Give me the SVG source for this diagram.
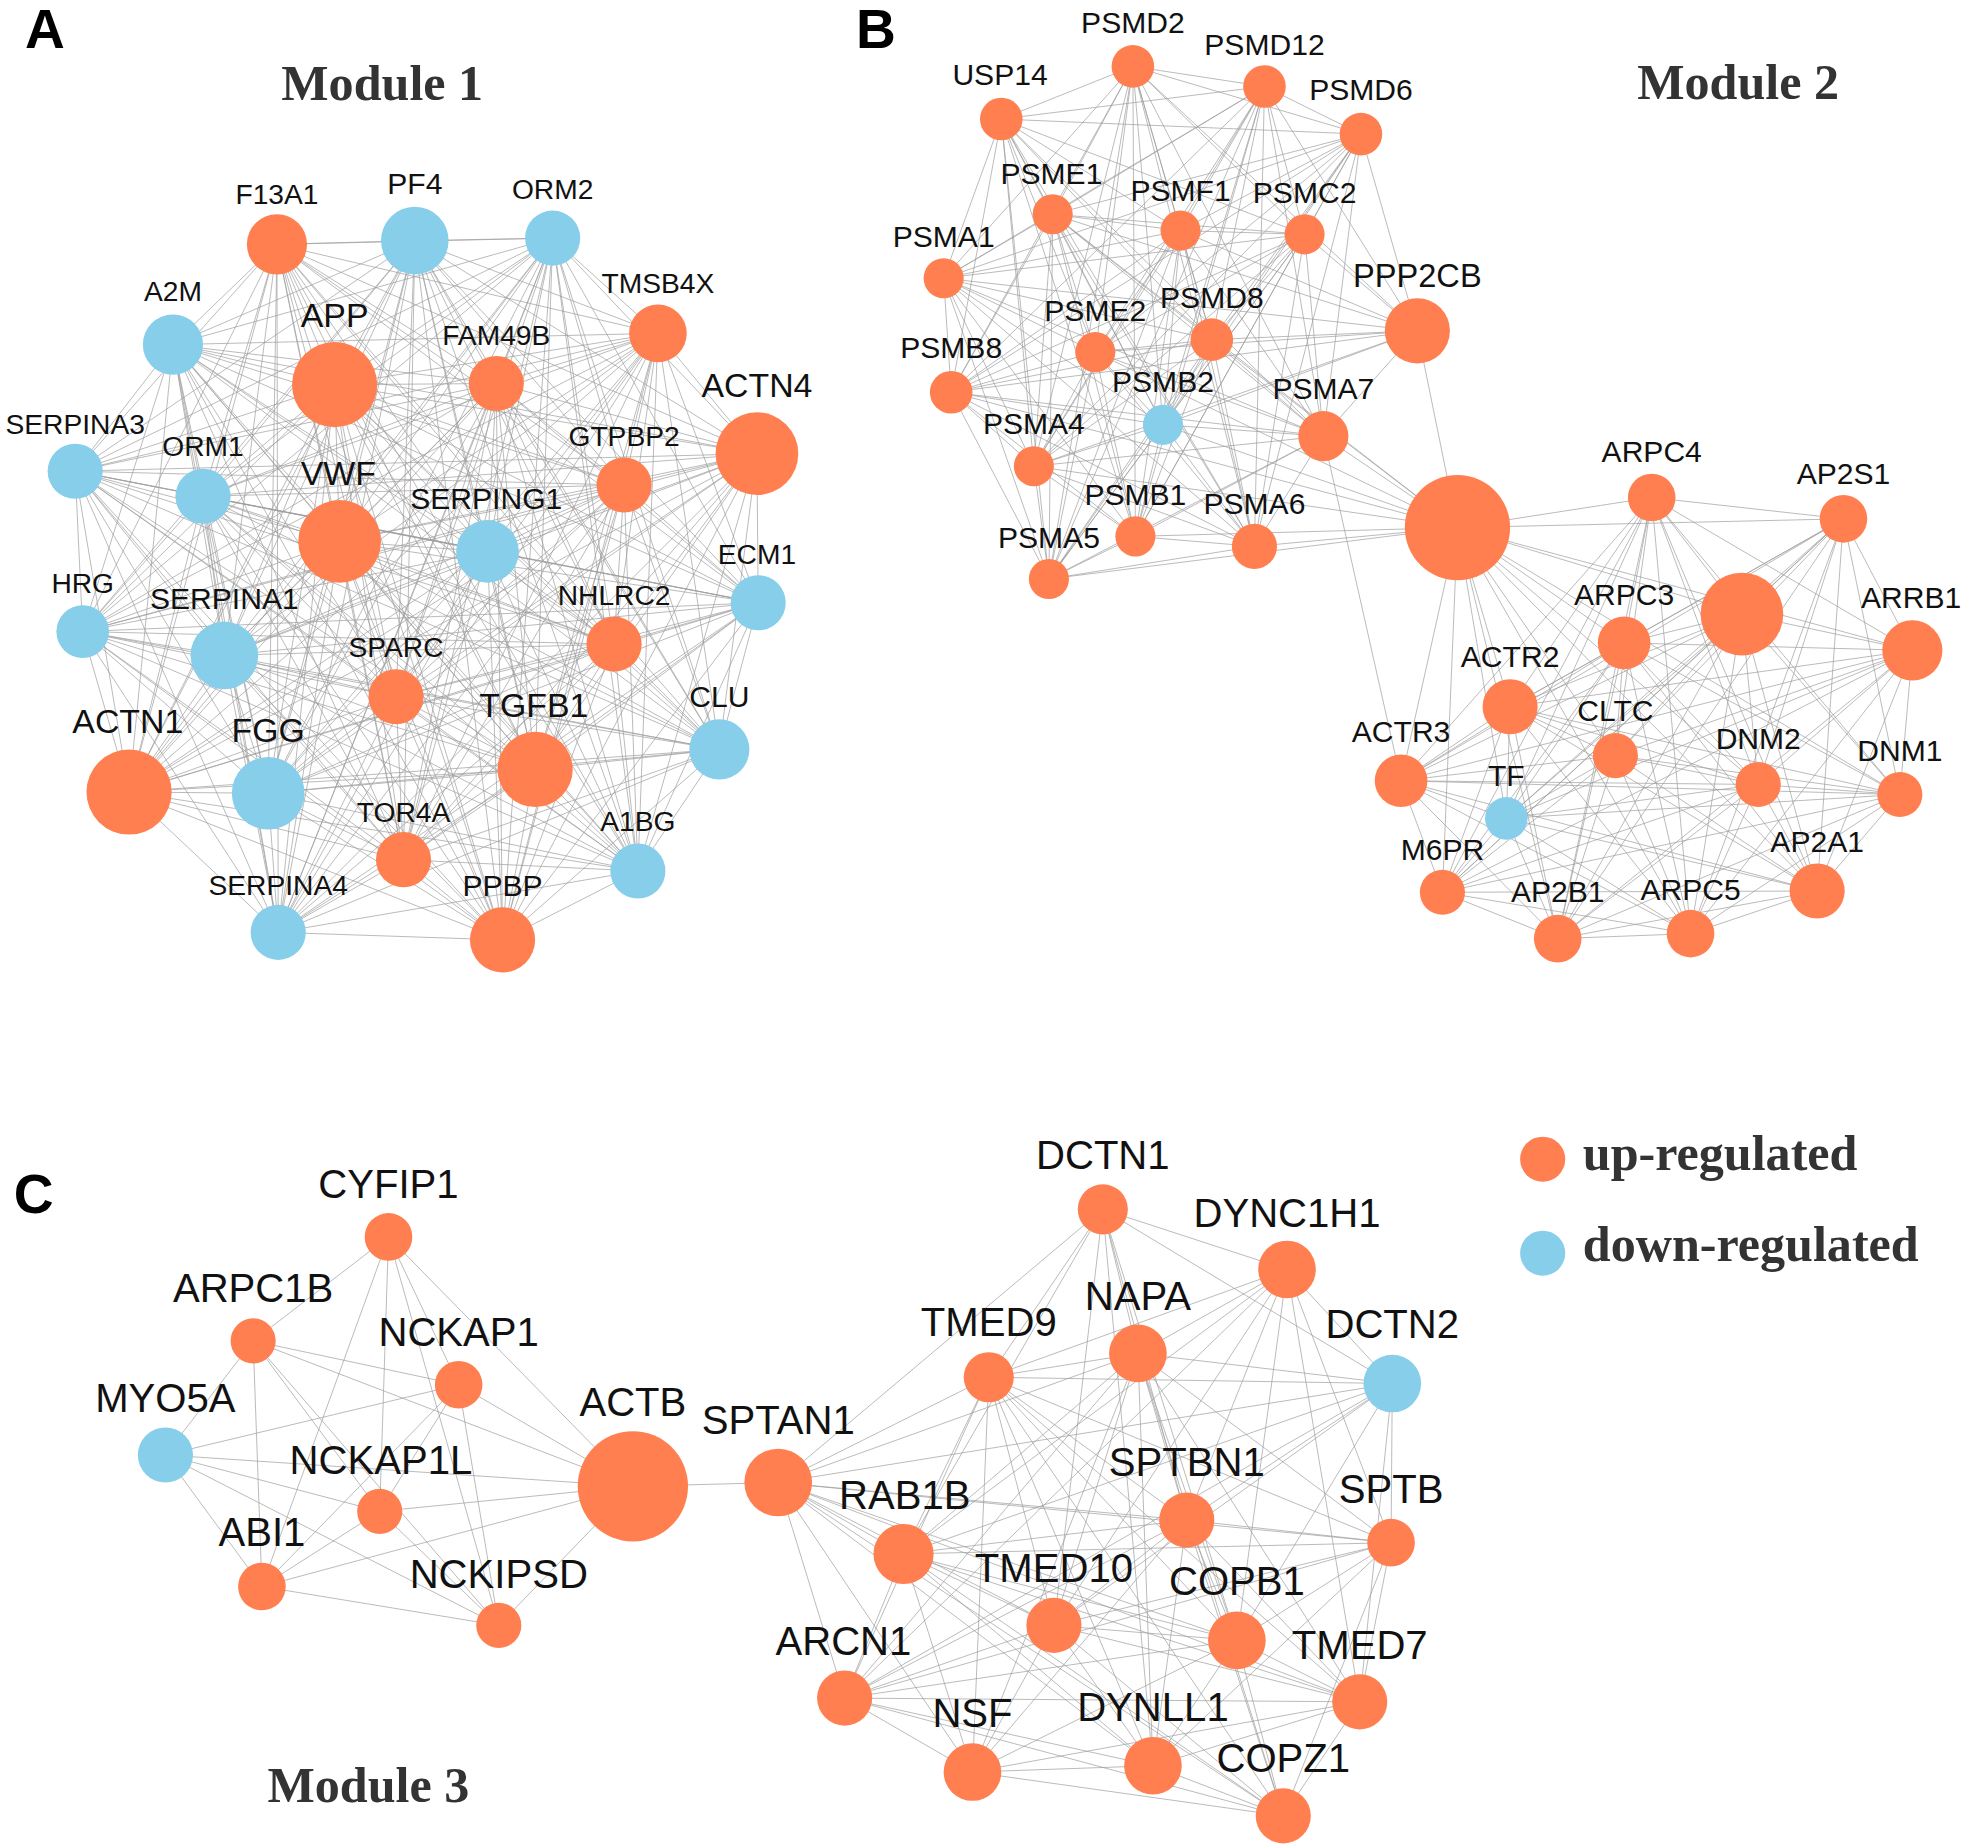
<svg xmlns="http://www.w3.org/2000/svg" width="1965" height="1848" viewBox="0 0 1965 1848">
<style>
.e{stroke:#9c9c9c;stroke-width:0.65;fill:none;stroke-opacity:0.85}
.o{fill:#FF7F50}
.b{fill:#87CEEB}
.t{font-family:"Liberation Sans",Arial,sans-serif;fill:#111;text-anchor:middle}
.s1{font-size:22.5px}
.s2{font-size:24px}
.s3{font-size:27px}
.s4{font-size:32px}
.m{font-family:"Liberation Serif","Times New Roman",serif;font-weight:bold;font-size:40px;fill:#333}
.p{font-family:"Liberation Sans",Arial,sans-serif;font-weight:bold;font-size:44px;fill:#000}
</style>
<rect width="1965" height="1848" fill="#fff"/>
<g transform="scale(1.25319)">
<g id="connectors">
<g id="edges-module1" class="e">
<path d="M331 192L221 195L441 190M138 275L221 195L267 307M396 306L221 195L525 266M604 362L221 195L60 376M162 396L221 195L271 432M389 440L221 195L498 387M605 481L221 195L66 504M179 523L221 195L490 514M316 556L221 195L574 598M103 632L221 195L214 633M427 614L221 195L322 686M509 695L221 195L222 744M401 750L221 195"/>
<path d="M441 190L331 192L138 275M267 307L331 192L396 306M525 266L331 192L604 362M60 376L331 192L162 396M271 432L331 192L389 440M498 387L331 192L605 481M66 504L331 192L179 523M490 514L331 192L316 556M574 598L331 192L103 632M214 633L331 192L427 614M322 686L331 192L509 695M222 744L331 192L401 750"/>
<path d="M138 275L441 190L267 307M396 306L441 190L525 266M604 362L441 190L60 376M162 396L441 190L271 432M389 440L441 190L498 387M605 481L441 190L66 504M179 523L441 190L490 514M316 556L441 190L574 598M103 632L441 190L214 633M427 614L441 190L322 686M509 695L441 190L222 744M401 750L441 190"/>
<path d="M267 307L138 275L396 306M525 266L138 275L604 362M60 376L138 275L162 396M271 432L138 275L389 440M498 387L138 275L605 481M66 504L138 275L179 523M490 514L138 275L316 556M574 598L138 275L103 632M214 633L138 275L427 614M322 686L138 275L509 695M222 744L138 275L401 750"/>
<path d="M396 306L267 307L525 266M604 362L267 307L60 376M162 396L267 307L271 432M389 440L267 307L498 387M605 481L267 307L66 504M179 523L267 307L490 514M316 556L267 307L574 598M103 632L267 307L214 633M427 614L267 307L322 686M509 695L267 307L222 744M401 750L267 307"/>
<path d="M525 266L396 306L604 362M60 376L396 306L162 396M271 432L396 306L389 440M498 387L396 306L605 481M66 504L396 306L179 523M490 514L396 306L316 556M574 598L396 306L103 632M214 633L396 306L427 614M322 686L396 306L509 695M222 744L396 306L401 750"/>
<path d="M604 362L525 266L60 376M162 396L525 266L271 432M389 440L525 266L498 387M605 481L525 266L66 504M179 523L525 266L490 514M316 556L525 266L574 598M103 632L525 266L214 633M427 614L525 266L322 686M509 695L525 266L222 744M401 750L525 266"/>
<path d="M60 376L604 362L162 396M271 432L604 362L389 440M498 387L604 362L605 481M66 504L604 362L179 523M490 514L604 362L316 556M574 598L604 362L103 632M214 633L604 362L427 614M322 686L604 362L509 695M222 744L604 362L401 750"/>
<path d="M162 396L60 376L271 432M389 440L60 376L498 387M605 481L60 376L66 504M179 523L60 376L490 514M316 556L60 376L574 598M103 632L60 376L214 633M427 614L60 376L322 686M509 695L60 376L222 744M401 750L60 376"/>
<path d="M271 432L162 396L389 440M498 387L162 396L605 481M66 504L162 396L179 523M490 514L162 396L316 556M574 598L162 396L103 632M214 633L162 396L427 614M322 686L162 396L509 695M222 744L162 396L401 750"/>
<path d="M389 440L271 432L498 387M605 481L271 432L66 504M179 523L271 432L490 514M316 556L271 432L574 598M103 632L271 432L214 633M427 614L271 432L322 686M509 695L271 432L222 744M401 750L271 432"/>
<path d="M498 387L389 440L605 481M66 504L389 440L179 523M490 514L389 440L316 556M574 598L389 440L103 632M214 633L389 440L427 614M322 686L389 440L509 695M222 744L389 440L401 750"/>
<path d="M605 481L498 387L66 504M179 523L498 387L490 514M316 556L498 387L574 598M103 632L498 387L214 633M427 614L498 387L322 686M509 695L498 387L222 744M401 750L498 387"/>
<path d="M66 504L605 481L179 523M490 514L605 481L316 556M574 598L605 481L103 632M214 633L605 481L427 614M322 686L605 481L509 695M222 744L605 481L401 750"/>
<path d="M179 523L66 504L490 514M316 556L66 504L574 598M103 632L66 504L214 633M427 614L66 504L322 686M509 695L66 504L222 744M401 750L66 504"/>
<path d="M490 514L179 523L316 556M574 598L179 523L103 632M214 633L179 523L427 614M322 686L179 523L509 695M222 744L179 523L401 750"/>
<path d="M316 556L490 514L574 598M103 632L490 514L214 633M427 614L490 514L322 686M509 695L490 514L222 744M401 750L490 514"/>
<path d="M574 598L316 556L103 632M214 633L316 556L427 614M322 686L316 556L509 695M222 744L316 556L401 750"/>
<path d="M103 632L574 598L214 633M427 614L574 598L322 686M509 695L574 598L222 744M401 750L574 598"/>
<path d="M214 633L103 632L427 614M322 686L103 632L509 695M222 744L103 632L401 750"/>
<path d="M427 614L214 633L322 686M509 695L214 633L222 744M401 750L214 633"/>
<path d="M322 686L427 614L509 695M222 744L427 614L401 750"/>
<path d="M509 695L322 686L222 744M401 750L322 686"/>
<path d="M222 744L509 695L401 750"/>
<path d="M222 744L401 750"/>
</g>
<g id="edges-module2" class="e">
<path d="M1009 69L904 53L799 95M1086 107L904 53L840 171M942 184L904 53L1041 187M753 222L904 53L874 281M967 271L904 53L759 313M928 339L904 53L1056 348M825 372L904 53L906 428M1001 436L904 53L837 462"/>
<path d="M799 95L1009 69L1086 107M840 171L1009 69L942 184M1041 187L1009 69L753 222M874 281L1009 69L967 271M759 313L1009 69L928 339M1056 348L1009 69L825 372M906 428L1009 69L1001 436M837 462L1009 69"/>
<path d="M1086 107L799 95L840 171M942 184L799 95L1041 187M753 222L799 95L874 281M967 271L799 95L759 313M928 339L799 95L1056 348M825 372L799 95L906 428M1001 436L799 95L837 462"/>
<path d="M840 171L1086 107L942 184M1041 187L1086 107L753 222M874 281L1086 107L967 271M759 313L1086 107L928 339M1056 348L1086 107L825 372M906 428L1086 107L1001 436M837 462L1086 107"/>
<path d="M942 184L840 171L1041 187M753 222L840 171L874 281M967 271L840 171L759 313M928 339L840 171L1056 348M825 372L840 171L906 428M1001 436L840 171L837 462"/>
<path d="M1041 187L942 184L753 222M874 281L942 184L967 271M759 313L942 184L928 339M1056 348L942 184L825 372M906 428L942 184L1001 436M837 462L942 184"/>
<path d="M753 222L1041 187L874 281M967 271L1041 187L759 313M928 339L1041 187L1056 348M825 372L1041 187L906 428M1001 436L1041 187L837 462"/>
<path d="M874 281L753 222L967 271M759 313L753 222L928 339M1056 348L753 222L825 372M906 428L753 222L1001 436M837 462L753 222"/>
<path d="M967 271L874 281L759 313M928 339L874 281L1056 348M825 372L874 281L906 428M1001 436L874 281L837 462"/>
<path d="M759 313L967 271L928 339M1056 348L967 271L825 372M906 428L967 271L1001 436M837 462L967 271"/>
<path d="M928 339L759 313L1056 348M825 372L759 313L906 428M1001 436L759 313L837 462"/>
<path d="M1056 348L928 339L825 372M906 428L928 339L1001 436M837 462L928 339"/>
<path d="M825 372L1056 348L906 428M1001 436L1056 348L837 462"/>
<path d="M906 428L825 372L1001 436M837 462L825 372"/>
<path d="M1001 436L906 428L837 462"/>
<path d="M1001 436L837 462"/>
<path d="M904 53L1131 264L1009 69M1086 107L1131 264L1041 187M942 184L1131 264L967 271M840 171L1131 264L753 222M759 313L1131 264L874 281M928 339L1131 264L1056 348M1163 421L1131 264L825 372"/>
<path d="M1056 348L1163 421L928 339M874 281L1163 421L840 171M1001 436L1163 421L906 428M837 462L1163 421L967 271M825 372L1163 421L759 313M1318 397L1163 421L1471 414M1390 490L1163 421L1296 513M1205 564L1163 421L1289 603M1118 623L1163 421L1202 653M1403 626L1163 421L1151 712M1243 749L1163 421L1526 519M1516 634L1163 421L1450 711M1349 745L1163 421"/>
<path d="M1118 623L1056 348"/>
<path d="M1471 414L1318 397L1390 490M1296 513L1318 397L1526 519M1205 564L1318 397L1289 603M1118 623L1318 397L1403 626M1516 634L1318 397L1202 653M1151 712L1318 397L1450 711M1243 749L1318 397L1349 745"/>
<path d="M1390 490L1471 414L1296 513M1526 519L1471 414L1205 564M1289 603L1471 414L1118 623M1403 626L1471 414L1516 634M1202 653L1471 414L1151 712M1450 711L1471 414L1243 749M1349 745L1471 414"/>
<path d="M1296 513L1390 490L1526 519M1205 564L1390 490L1289 603M1118 623L1390 490L1403 626M1516 634L1390 490L1202 653M1151 712L1390 490L1450 711M1243 749L1390 490L1349 745"/>
<path d="M1526 519L1296 513L1205 564M1289 603L1296 513L1118 623M1403 626L1296 513L1516 634M1202 653L1296 513L1151 712M1450 711L1296 513L1243 749M1349 745L1296 513"/>
<path d="M1205 564L1526 519L1289 603M1118 623L1526 519L1403 626M1516 634L1526 519L1202 653M1151 712L1526 519L1450 711M1243 749L1526 519L1349 745"/>
<path d="M1289 603L1205 564L1118 623M1403 626L1205 564L1516 634M1202 653L1205 564L1151 712M1450 711L1205 564L1243 749M1349 745L1205 564"/>
<path d="M1118 623L1289 603L1403 626M1516 634L1289 603L1202 653M1151 712L1289 603L1450 711M1243 749L1289 603L1349 745"/>
<path d="M1403 626L1118 623L1516 634M1202 653L1118 623L1151 712M1450 711L1118 623L1243 749M1349 745L1118 623"/>
<path d="M1516 634L1403 626L1202 653M1151 712L1403 626L1450 711M1243 749L1403 626L1349 745"/>
<path d="M1202 653L1516 634L1151 712M1450 711L1516 634L1243 749M1349 745L1516 634"/>
<path d="M1151 712L1202 653L1450 711M1243 749L1202 653L1349 745"/>
<path d="M1450 711L1151 712L1243 749M1349 745L1151 712"/>
<path d="M1243 749L1450 711L1349 745"/>
<path d="M1243 749L1349 745"/>
</g>
<g id="edges-module3" class="e">
<path d="M202 1070L310 987L366 1105M303 1206L310 987L505 1186M398 1297L310 987L209 1266"/>
<path d="M132 1161L202 1070L366 1105M303 1206L202 1070L505 1186M209 1266L202 1070L398 1297"/>
<path d="M366 1105L132 1161L505 1186M209 1266L132 1161L303 1206M398 1297L132 1161"/>
<path d="M505 1186L366 1105L303 1206M209 1266L366 1105L398 1297"/>
<path d="M505 1186L303 1206L209 1266M398 1297L303 1206"/>
<path d="M505 1186L209 1266L398 1297"/>
<path d="M398 1297L505 1186"/>
<path d="M505 1186L621 1183"/>
<path d="M721 1240L621 1183L947 1213M1110 1231L621 1183L674 1355M776 1414L621 1183L841 1297M987 1309L621 1183L920 1409M1085 1358L621 1183L1024 1449M789 1099L621 1183L908 1080M880 965L621 1183L1111 1104"/>
<path d="M789 1099L880 965L908 1080M1027 1013L880 965L1111 1104M947 1213L880 965L721 1240M841 1297L880 965L987 1309M920 1409L880 965"/>
<path d="M1111 1104L1027 1013L908 1080M789 1099L1027 1013L947 1213M1110 1231L1027 1013L987 1309M1085 1358L1027 1013L841 1297M721 1240L1027 1013L674 1355"/>
<path d="M789 1099L908 1080L1111 1104M947 1213L908 1080L721 1240M841 1297L908 1080L987 1309M1085 1358L908 1080L1024 1449M920 1409L908 1080L776 1414M674 1355L908 1080L1110 1231"/>
<path d="M1111 1104L789 1099L721 1240M947 1213L789 1099L841 1297M987 1309L789 1099L776 1414M674 1355L789 1099L920 1409M1024 1449L789 1099L1085 1358M1110 1231L789 1099"/>
<path d="M1110 1231L1111 1104L947 1213M721 1240L1111 1104L841 1297M987 1309L1111 1104L1085 1358M674 1355L1111 1104"/>
<path d="M947 1213L721 1240L1110 1231M674 1355L721 1240L776 1414M841 1297L721 1240L987 1309M920 1409L721 1240L1085 1358M1024 1449L721 1240"/>
<path d="M1110 1231L947 1213L841 1297M987 1309L947 1213L1085 1358M674 1355L947 1213L776 1414M920 1409L947 1213L1024 1449"/>
<path d="M987 1309L1110 1231L1085 1358M841 1297L1110 1231L920 1409M1024 1449L1110 1231L674 1355"/>
<path d="M987 1309L841 1297L674 1355M776 1414L841 1297L920 1409M1085 1358L841 1297L1024 1449"/>
<path d="M1085 1358L987 1309L674 1355M776 1414L987 1309L920 1409M1024 1449L987 1309"/>
<path d="M674 1355L1085 1358L920 1409M1024 1449L1085 1358L776 1414"/>
<path d="M776 1414L674 1355L920 1409M1024 1449L674 1355"/>
<path d="M920 1409L776 1414L1024 1449"/>
<path d="M920 1409L1024 1449"/>
</g>
</g>

<g id="labels-panels">
<text class="p" x="20" y="38">A</text>
<text class="p" x="683" y="38">B</text>
<text class="p" x="11" y="968">C</text>
<text class="m" x="305" y="80" text-anchor="middle">Module 1</text>
<text class="m" x="1387" y="79" text-anchor="middle">Module 2</text>
<text class="m" x="294" y="1438" text-anchor="middle">Module 3</text>
</g>

<g id="module1">
<g id="n-F13A1"><circle class="o" cx="221" cy="195" r="24"/><text class="t s1" x="221" y="163">F13A1</text></g>
<g id="n-PF4"><circle class="b" cx="331" cy="192" r="27"/><text class="t s2" x="331" y="155">PF4</text></g>
<g id="n-ORM2"><circle class="b" cx="441" cy="190" r="22"/><text class="t s1" x="441" y="159">ORM2</text></g>
<g id="n-A2M"><circle class="b" cx="138" cy="275" r="24"/><text class="t s1" x="138" y="240">A2M</text></g>
<g id="n-APP"><circle class="o" cx="267" cy="307" r="34"/><text class="t s3" x="267" y="261">APP</text></g>
<g id="n-FAM49B"><circle class="o" cx="396" cy="306" r="22"/><text class="t s1" x="396" y="275">FAM49B</text></g>
<g id="n-TMSB4X"><circle class="o" cx="525" cy="266" r="23"/><text class="t s1" x="525" y="234">TMSB4X</text></g>
<g id="n-ACTN4"><circle class="o" cx="604" cy="362" r="33"/><text class="t s3" x="604" y="317">ACTN4</text></g>
<g id="n-SERPINA3"><circle class="b" cx="60" cy="376" r="22"/><text class="t s1" x="60" y="346">SERPINA3</text></g>
<g id="n-ORM1"><circle class="b" cx="162" cy="396" r="22"/><text class="t s1" x="162" y="364">ORM1</text></g>
<g id="n-VWF"><circle class="o" cx="271" cy="432" r="33"/><text class="t s3" x="270" y="387">VWF</text></g>
<g id="n-SERPING1"><circle class="b" cx="389" cy="440" r="25"/><text class="t s2" x="388" y="406">SERPING1</text></g>
<g id="n-GTPBP2"><circle class="o" cx="498" cy="387" r="22"/><text class="t s1" x="498" y="356">GTPBP2</text></g>
<g id="n-ECM1"><circle class="b" cx="605" cy="481" r="22"/><text class="t s1" x="604" y="450">ECM1</text></g>
<g id="n-HRG"><circle class="b" cx="66" cy="504" r="21"/><text class="t s1" x="66" y="473">HRG</text></g>
<g id="n-SERPINA1"><circle class="b" cx="179" cy="523" r="27"/><text class="t s2" x="179" y="486">SERPINA1</text></g>
<g id="n-NHLRC2"><circle class="o" cx="490" cy="514" r="22"/><text class="t s1" x="490" y="483">NHLRC2</text></g>
<g id="n-SPARC"><circle class="o" cx="316" cy="556" r="22"/><text class="t s1" x="316" y="524">SPARC</text></g>
<g id="n-CLU"><circle class="b" cx="574" cy="598" r="24"/><text class="t s2" x="574" y="564">CLU</text></g>
<g id="n-ACTN1"><circle class="o" cx="103" cy="632" r="34"/><text class="t s3" x="102" y="585">ACTN1</text></g>
<g id="n-FGG"><circle class="b" cx="214" cy="633" r="29"/><text class="t s3" x="214" y="592">FGG</text></g>
<g id="n-TGFB1"><circle class="o" cx="427" cy="614" r="30"/><text class="t s3" x="426" y="572">TGFB1</text></g>
<g id="n-TOR4A"><circle class="o" cx="322" cy="686" r="22"/><text class="t s1" x="322" y="656">TOR4A</text></g>
<g id="n-A1BG"><circle class="b" cx="509" cy="695" r="22"/><text class="t s1" x="509" y="663">A1BG</text></g>
<g id="n-SERPINA4"><circle class="b" cx="222" cy="744" r="22"/><text class="t s1" x="222" y="714">SERPINA4</text></g>
<g id="n-PPBP"><circle class="o" cx="401" cy="750" r="26"/><text class="t s2" x="401" y="715">PPBP</text></g>
</g>

<g id="module2">
<g id="n-PSMD2"><circle class="o" cx="904" cy="53" r="17"/><text class="t s2" x="904" y="26">PSMD2</text></g>
<g id="n-PSMD12"><circle class="o" cx="1009" cy="69" r="17"/><text class="t s2" x="1009" y="44">PSMD12</text></g>
<g id="n-USP14"><circle class="o" cx="799" cy="95" r="17"/><text class="t s2" x="798" y="68">USP14</text></g>
<g id="n-PSMD6"><circle class="o" cx="1086" cy="107" r="17"/><text class="t s2" x="1086" y="80">PSMD6</text></g>
<g id="n-PSME1"><circle class="o" cx="840" cy="171" r="16"/><text class="t s2" x="839" y="147">PSME1</text></g>
<g id="n-PSMF1"><circle class="o" cx="942" cy="184" r="16"/><text class="t s2" x="942" y="160">PSMF1</text></g>
<g id="n-PSMC2"><circle class="o" cx="1041" cy="187" r="16"/><text class="t s2" x="1041" y="162">PSMC2</text></g>
<g id="n-PSMA1"><circle class="o" cx="753" cy="222" r="16"/><text class="t s2" x="753" y="197">PSMA1</text></g>
<g id="n-PPP2CB"><circle class="o" cx="1131" cy="264" r="26"/><text class="t" style="font-size:26px" x="1131" y="229">PPP2CB</text></g>
<g id="n-PSME2"><circle class="o" cx="874" cy="281" r="16"/><text class="t s2" x="874" y="256">PSME2</text></g>
<g id="n-PSMD8"><circle class="o" cx="967" cy="271" r="17"/><text class="t s2" x="967" y="246">PSMD8</text></g>
<g id="n-PSMB8"><circle class="o" cx="759" cy="313" r="17"/><text class="t s2" x="759" y="286">PSMB8</text></g>
<g id="n-PSMB2"><circle class="b" cx="928" cy="339" r="16"/><text class="t s2" x="928" y="313">PSMB2</text></g>
<g id="n-PSMA7"><circle class="o" cx="1056" cy="348" r="20"/><text class="t s2" x="1056" y="318">PSMA7</text></g>
<g id="n-PSMA4"><circle class="o" cx="825" cy="372" r="16"/><text class="t s2" x="825" y="346">PSMA4</text></g>
<g id="n-PSMB1"><circle class="o" cx="906" cy="428" r="16"/><text class="t s2" x="906" y="403">PSMB1</text></g>
<g id="n-PSMA6"><circle class="o" cx="1001" cy="436" r="18"/><text class="t s2" x="1001" y="410">PSMA6</text></g>
<g id="n-PSMA5"><circle class="o" cx="837" cy="462" r="16"/><text class="t s2" x="837" y="437">PSMA5</text></g>
<g id="n-hub1"><circle class="o" cx="1163" cy="421" r="42"/></g>
<g id="n-ARPC4"><circle class="o" cx="1318" cy="397" r="19"/><text class="t s2" x="1318" y="369">ARPC4</text></g>
<g id="n-AP2S1"><circle class="o" cx="1471" cy="414" r="19"/><text class="t s2" x="1471" y="386">AP2S1</text></g>
<g id="n-hub2"><circle class="o" cx="1390" cy="490" r="33"/></g>
<g id="n-ARPC3"><circle class="o" cx="1296" cy="513" r="21"/><text class="t s2" x="1296" y="483">ARPC3</text></g>
<g id="n-ARRB1"><circle class="o" cx="1526" cy="519" r="24"/><text class="t s2" x="1525" y="485">ARRB1</text></g>
<g id="n-ACTR2"><circle class="o" cx="1205" cy="564" r="22"/><text class="t s2" x="1205" y="532">ACTR2</text></g>
<g id="n-CLTC"><circle class="o" cx="1289" cy="603" r="18"/><text class="t s2" x="1289" y="575">CLTC</text></g>
<g id="n-ACTR3"><circle class="o" cx="1118" cy="623" r="21"/><text class="t s2" x="1118" y="592">ACTR3</text></g>
<g id="n-DNM2"><circle class="o" cx="1403" cy="626" r="18"/><text class="t s2" x="1403" y="598">DNM2</text></g>
<g id="n-DNM1"><circle class="o" cx="1516" cy="634" r="18"/><text class="t s2" x="1516" y="607">DNM1</text></g>
<g id="n-TF"><circle class="b" cx="1202" cy="653" r="17"/><text class="t s2" x="1202" y="627">TF</text></g>
<g id="n-M6PR"><circle class="o" cx="1151" cy="712" r="18"/><text class="t s2" x="1151" y="686">M6PR</text></g>
<g id="n-AP2A1"><circle class="o" cx="1450" cy="711" r="22"/><text class="t s2" x="1450" y="680">AP2A1</text></g>
<g id="n-AP2B1"><circle class="o" cx="1243" cy="749" r="19"/><text class="t s2" x="1243" y="720">AP2B1</text></g>
<g id="n-ARPC5"><circle class="o" cx="1349" cy="745" r="19"/><text class="t s2" x="1349" y="718">ARPC5</text></g>
</g>

<g id="module3">
<g id="n-CYFIP1"><circle class="o" cx="310" cy="987" r="19"/><text class="t s4" x="310" y="956">CYFIP1</text></g>
<g id="n-ARPC1B"><circle class="o" cx="202" cy="1070" r="18"/><text class="t s4" x="202" y="1039">ARPC1B</text></g>
<g id="n-NCKAP1"><circle class="o" cx="366" cy="1105" r="19"/><text class="t s4" x="366" y="1074">NCKAP1</text></g>
<g id="n-MYO5A"><circle class="b" cx="132" cy="1161" r="22"/><text class="t s4" x="132" y="1127">MYO5A</text></g>
<g id="n-NCKAP1L"><circle class="o" cx="303" cy="1206" r="18"/><text class="t s4" x="304" y="1176">NCKAP1L</text></g>
<g id="n-ACTB"><circle class="o" cx="505" cy="1186" r="44"/><text class="t s4" x="505" y="1130">ACTB</text></g>
<g id="n-ABI1"><circle class="o" cx="209" cy="1266" r="19"/><text class="t s4" x="209" y="1234">ABI1</text></g>
<g id="n-NCKIPSD"><circle class="o" cx="398" cy="1297" r="18"/><text class="t s4" x="398" y="1267">NCKIPSD</text></g>
<g id="n-SPTAN1"><circle class="o" cx="621" cy="1183" r="27"/><text class="t s4" x="621" y="1144">SPTAN1</text></g>
<g id="n-DCTN1"><circle class="o" cx="880" cy="965" r="20"/><text class="t s4" x="880" y="933">DCTN1</text></g>
<g id="n-DYNC1H1"><circle class="o" cx="1027" cy="1013" r="23"/><text class="t s4" x="1027" y="979">DYNC1H1</text></g>
<g id="n-NAPA"><circle class="o" cx="908" cy="1080" r="23"/><text class="t s4" x="908" y="1045">NAPA</text></g>
<g id="n-TMED9"><circle class="o" cx="789" cy="1099" r="20"/><text class="t s4" x="789" y="1066">TMED9</text></g>
<g id="n-DCTN2"><circle class="b" cx="1111" cy="1104" r="23"/><text class="t s4" x="1111" y="1068">DCTN2</text></g>
<g id="n-SPTBN1"><circle class="o" cx="947" cy="1213" r="22"/><text class="t s4" x="947" y="1178">SPTBN1</text></g>
<g id="n-RAB1B"><circle class="o" cx="721" cy="1240" r="24"/><text class="t s4" x="722" y="1204">RAB1B</text></g>
<g id="n-SPTB"><circle class="o" cx="1110" cy="1231" r="19"/><text class="t s4" x="1110" y="1199">SPTB</text></g>
<g id="n-TMED10"><circle class="o" cx="841" cy="1297" r="22"/><text class="t s4" x="841" y="1262">TMED10</text></g>
<g id="n-COPB1"><circle class="o" cx="987" cy="1309" r="23"/><text class="t s4" x="987" y="1273">COPB1</text></g>
<g id="n-TMED7"><circle class="o" cx="1085" cy="1358" r="22"/><text class="t s4" x="1085" y="1324">TMED7</text></g>
<g id="n-ARCN1"><circle class="o" cx="674" cy="1355" r="22"/><text class="t s4" x="673" y="1321">ARCN1</text></g>
<g id="n-NSF"><circle class="o" cx="776" cy="1414" r="23"/><text class="t s4" x="776" y="1378">NSF</text></g>
<g id="n-DYNLL1"><circle class="o" cx="920" cy="1409" r="23"/><text class="t s4" x="920" y="1373">DYNLL1</text></g>
<g id="n-COPZ1"><circle class="o" cx="1024" cy="1449" r="22"/><text class="t s4" x="1024" y="1414">COPZ1</text></g>
</g>

<g id="legend">
<g id="legend-up"><circle class="o" cx="1231" cy="925" r="18"/><text class="m" x="1263" y="934">up-regulated</text></g>
<g id="legend-down"><circle class="b" cx="1231" cy="1000" r="18"/><text class="m" x="1263" y="1006">down-regulated</text></g>
</g>
</g>
</svg>
